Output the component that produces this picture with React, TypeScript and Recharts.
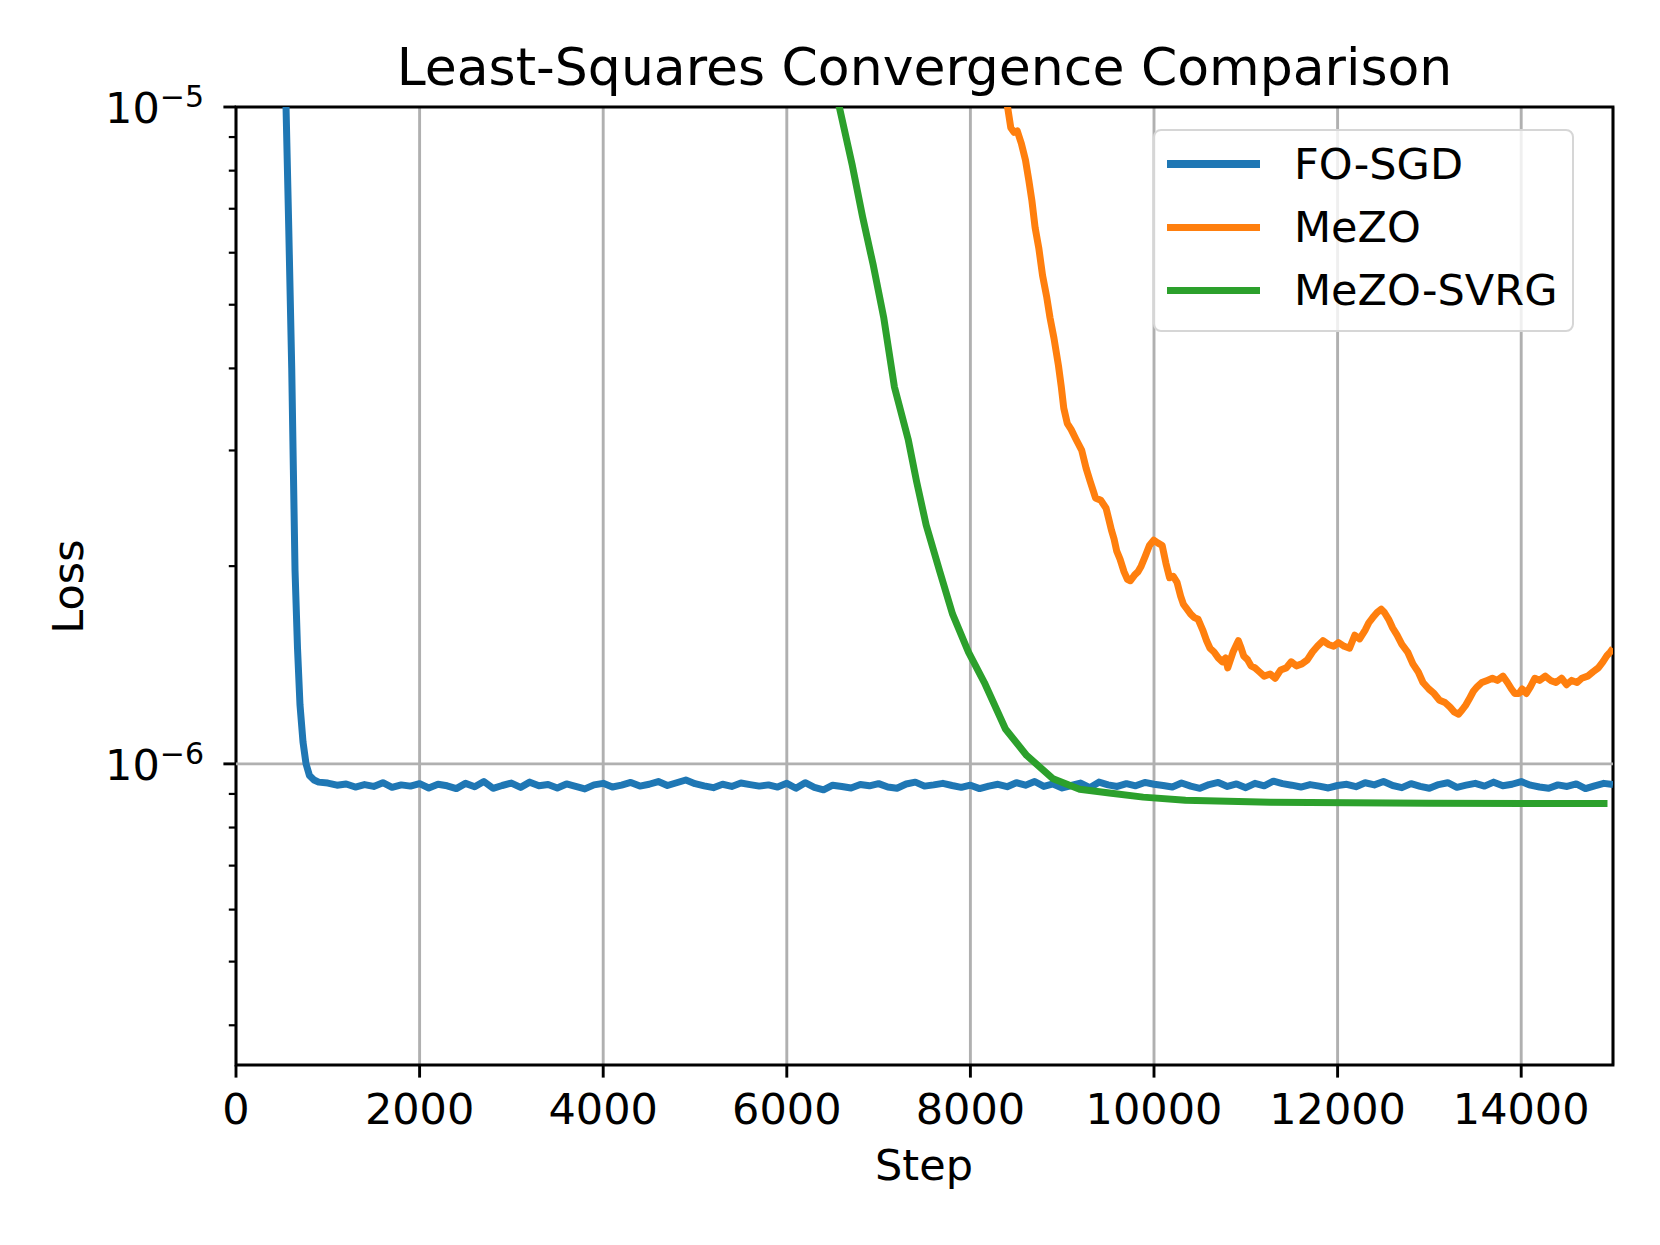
import { CartesianGrid, Legend, Line, LineChart, ReferenceArea, ReferenceLine, XAxis, YAxis } from "recharts";

const FONT = '"DejaVu Sans", "Liberation Sans", sans-serif';

// axis setup
const Y_MIN = 3.48e-7;
const Y_MAX = 1e-5;
const xTicks = [0, 2000, 4000, 6000, 8000, 10000, 12000, 14000];
const yMajorTicks = [1e-6, 1e-5];
const yMajorLabels = ["−6", "−5"];
const yMinorTicks = [4e-7, 5e-7, 6e-7, 7e-7, 8e-7, 9e-7, 2e-6, 3e-6, 4e-6, 5e-6, 6e-6, 7e-6, 8e-6, 9e-6];

// FO-SGD (loss in units of 1e-6)
const fosgdSteps = [
  0, 200, 400, 500, 545, 575, 607, 625, 643, 670, 697, 730, 763, 800, 850,
  900, 1000, 1100, 1200, 1300, 1400, 1500, 1600, 1700, 1800, 1900, 2000, 2100, 2200, 2300, 2400,
  2500, 2600, 2700, 2800, 2900, 3000, 3100, 3200, 3300, 3400, 3500, 3600, 3700, 3800, 3900, 4000,
  4100, 4200, 4300, 4400, 4500, 4600, 4700, 4800, 4900, 5000, 5100, 5200, 5300, 5400, 5500, 5600,
  5700, 5800, 5900, 6000, 6100, 6200, 6300, 6400, 6500, 6600, 6700, 6800, 6900, 7000, 7100, 7200,
  7300, 7400, 7500, 7600, 7700, 7800, 7900, 8000, 8100, 8200, 8300, 8400, 8500, 8600, 8700, 8800,
  8900, 9000, 9100, 9200, 9300, 9400, 9500, 9600, 9700, 9800, 9900, 10000, 10100, 10200, 10300, 10400,
  10500, 10600, 10700, 10800, 10900, 11000, 11100, 11200, 11300, 11400, 11500, 11600, 11700, 11800, 11900, 12000,
  12100, 12200, 12300, 12400, 12500, 12600, 12700, 12800, 12900, 13000, 13100, 13200, 13300, 13400, 13500, 13600,
  13700, 13800, 13900, 14000, 14100, 14200, 14300, 14400, 14500, 14600, 14700, 14800, 14900, 15000,
];
const fosgdLoss = [
  2000, 300, 70, 20, 10, 6.5, 4.0, 2.8, 1.97, 1.5, 1.23, 1.08, 1.0, 0.96, 0.945,
  0.938, 0.935, 0.928, 0.932, 0.922, 0.93, 0.924, 0.936, 0.921, 0.929, 0.925, 0.933, 0.919, 0.931, 0.926, 0.917,
  0.934, 0.923, 0.94, 0.918, 0.927, 0.935, 0.921, 0.938, 0.926, 0.93, 0.919, 0.932, 0.924, 0.916, 0.929, 0.934,
  0.922, 0.928, 0.937, 0.925, 0.931, 0.94, 0.927, 0.936, 0.945, 0.933, 0.926, 0.92, 0.931, 0.924, 0.935, 0.93,
  0.925, 0.929, 0.922, 0.934, 0.918, 0.936, 0.921, 0.913, 0.928, 0.924, 0.919, 0.93, 0.926, 0.933, 0.922, 0.918,
  0.932, 0.938, 0.925, 0.929, 0.934, 0.927, 0.921, 0.928, 0.917, 0.925, 0.931, 0.923, 0.936, 0.928, 0.94, 0.924,
  0.932, 0.919, 0.927, 0.935, 0.92, 0.938, 0.929, 0.924, 0.933, 0.926, 0.937, 0.931, 0.927, 0.922, 0.935, 0.925,
  0.918, 0.93, 0.937, 0.924, 0.932, 0.92, 0.934, 0.926, 0.941, 0.933, 0.928, 0.922, 0.93, 0.925, 0.919, 0.927,
  0.931, 0.923, 0.936, 0.929, 0.94, 0.927, 0.92, 0.933, 0.924, 0.918, 0.93, 0.936, 0.921, 0.928, 0.934, 0.925,
  0.938, 0.926, 0.931, 0.94, 0.928, 0.922, 0.918, 0.929, 0.924, 0.932, 0.917, 0.926, 0.934, 0.93,
];

// MeZO
const mezoSteps = [
  8000, 8200, 8405, 8440, 8475, 8510, 8555, 8600, 8636, 8670, 8705, 8745, 8786, 8830, 8867, 8910,
  8959, 8990, 9017, 9055, 9097, 9150, 9213, 9260, 9305, 9340, 9363, 9420, 9478, 9510, 9536, 9565,
  9593, 9630, 9674, 9710, 9743, 9790, 9824, 9860, 9904, 9950, 9997, 10040, 10089, 10130, 10170, 10210,
  10251, 10290, 10320, 10360, 10400, 10440, 10481, 10530, 10573, 10610, 10654, 10700, 10746, 10780, 10803, 10861,
  10919, 10950, 10977, 11020, 11057, 11100, 11150, 11200, 11265, 11320, 11380, 11440, 11495, 11550, 11611, 11670,
  11726, 11780, 11841, 11900, 11957, 12010, 12072, 12130, 12187, 12240, 12302, 12340, 12383, 12430, 12475, 12510,
  12556, 12600, 12648, 12700, 12763, 12820, 12879, 12930, 12994, 13050, 13110, 13170, 13225, 13270, 13317, 13360,
  13398, 13440, 13479, 13520, 13571, 13630, 13686, 13740, 13802, 13850, 13894, 13930, 13975, 14010, 14056, 14100,
  14148, 14200, 14263, 14320, 14379, 14440, 14494, 14550, 14609, 14660, 14724, 14780, 14840, 14890, 14932, 14970,
  15000,
];
const mezoLoss = [
  16.0, 12.6, 10.0, 9.3, 9.15, 9.2, 8.8, 8.3, 7.74, 7.2, 6.55, 6.1, 5.54, 5.15, 4.78, 4.45,
  4.04, 3.75, 3.48, 3.3, 3.23, 3.12, 3.0, 2.82, 2.69, 2.6, 2.54, 2.52, 2.45, 2.35, 2.27, 2.2,
  2.11, 2.05, 1.96, 1.91, 1.9, 1.94, 1.96, 2.0, 2.07, 2.15, 2.19, 2.17, 2.15, 2.02, 1.92, 1.93,
  1.89, 1.8, 1.75, 1.72, 1.69, 1.67, 1.66, 1.6, 1.54, 1.5, 1.48, 1.45, 1.43, 1.45, 1.4, 1.48,
  1.54, 1.5, 1.46, 1.44, 1.41, 1.4, 1.38, 1.36, 1.37, 1.35, 1.39, 1.4, 1.43, 1.41, 1.42, 1.44,
  1.48, 1.51, 1.54, 1.52, 1.51, 1.53, 1.51, 1.5, 1.57, 1.55, 1.6, 1.64, 1.67, 1.7, 1.72, 1.7,
  1.66, 1.61, 1.57, 1.52, 1.48, 1.42, 1.38, 1.33, 1.3, 1.28, 1.25, 1.24, 1.22, 1.2, 1.19, 1.21,
  1.23, 1.26, 1.29, 1.31, 1.33, 1.34, 1.35, 1.34, 1.36, 1.33, 1.3, 1.28, 1.28, 1.3, 1.28, 1.31,
  1.35, 1.34, 1.36, 1.34, 1.33, 1.35, 1.32, 1.34, 1.33, 1.35, 1.36, 1.38, 1.4, 1.43, 1.46, 1.48,
  1.5,
];

// MeZO-SVRG
const svrgSteps = [
  6300, 6572, 6711, 6826, 6941, 7057, 7172, 7322, 7414, 7518, 7668, 7806, 7979, 8152, 8382, 8613,
  8901, 9190, 9536, 9882, 10343, 11265, 12994, 14940,
];
const svrgLoss = [
  12.5, 10.0, 8.18, 6.8, 5.75, 4.77, 3.75, 3.12, 2.69, 2.31, 1.96, 1.69, 1.48, 1.33, 1.13, 1.03,
  0.949, 0.915, 0.902, 0.89, 0.88, 0.874, 0.871, 0.87,
];

const toRows = (steps: number[], loss: number[]) => steps.map((step, i) => ({ step, loss: loss[i] * 1e-6 }));

const series = [
  { name: "FO-SGD", color: "#1f77b4", data: toRows(fosgdSteps, fosgdLoss) },
  { name: "MeZO", color: "#ff7f0e", data: toRows(mezoSteps, mezoLoss) },
  { name: "MeZO-SVRG", color: "#2ca02c", data: toRows(svrgSteps, svrgLoss) },
];

const yTicks = [...yMinorTicks, ...yMajorTicks].sort((a, b) => a - b);

function YTick(props: any) {
  const { x, y, payload } = props;
  const idx = yMajorTicks.findIndex((t) => Math.abs(t - payload.value) / t < 1e-6);
  if (idx < 0) {
    return <line x1={x} x2={x - 7.2} y1={y} y2={y} stroke="#000" strokeWidth={2.2} />;
  }
  return (
    <g>
      <line x1={x} x2={x - 12.6} y1={y} y2={y} stroke="#000" strokeWidth={2.9} />
      <text x={x - 32} y={y + 16} textAnchor="end" fontFamily={FONT} fontSize={43} fill="#000">
        10
        <tspan dy={-16} fontSize={30}>
          {yMajorLabels[idx]}
        </tspan>
      </text>
    </g>
  );
}

function XTick(props: any) {
  const { x, y, payload } = props;
  return (
    <g>
      <line x1={x} x2={x} y1={y} y2={y + 12.6} stroke="#000" strokeWidth={2.9} />
      <text x={x} y={y + 59} textAnchor="middle" fontFamily={FONT} fontSize={43} fill="#000">
        {payload.value}
      </text>
    </g>
  );
}

function LegendBox(props: any) {
  const items = props.payload || [];
  return (
    <div
      style={{
        position: "relative",
        width: 421,
        height: 203,
        boxSizing: "border-box",
        border: "2.2px solid #d6d6d6",
        borderRadius: 8,
        background: "rgba(255,255,255,0.8)",
        fontFamily: FONT,
      }}
    >
      {items.map((it: any, i: number) => {
        const cy = 33 + 63.3 * i;
        return (
          <div key={it.value}>
            <div style={{ position: "absolute", left: 12, top: cy - 3.6, width: 93, height: 7.2, background: it.color }} />
            <div style={{ position: "absolute", left: 139, top: cy - 21.4, fontSize: 43, lineHeight: "43px", color: "#000", whiteSpace: "nowrap" }}>
              {it.value}
            </div>
          </div>
        );
      })}
    </div>
  );
}

export default function App() {
  return (
    <div style={{ position: "absolute", left: 0, top: 0, width: 1660, height: 1245, background: "#fff", fontFamily: FONT }}>
      <div style={{ position: "absolute", left: 236, top: 41, width: 1377, textAlign: "center", fontSize: 52, lineHeight: "52px", color: "#000" }}>
        Least-Squares Convergence Comparison
      </div>
      <LineChart width={1660} height={1245} margin={{ top: 107, right: 47, left: 0, bottom: 50 }}>
        <CartesianGrid horizontal={false} stroke="#b0b0b0" strokeWidth={2.9} />
        <XAxis
          dataKey="step"
          type="number"
          domain={[0, 15000]}
          ticks={xTicks}
          interval={0}
          allowDataOverflow
          axisLine={false}
          tickLine={false}
          tickSize={0}
          tickMargin={0}
          height={130}
          tick={<XTick />}
        />
        <YAxis
          type="number"
          scale="log"
          domain={[Y_MIN, Y_MAX]}
          ticks={yTicks}
          interval={0}
          allowDataOverflow
          axisLine={false}
          tickLine={false}
          tickSize={0}
          tickMargin={0}
          width={236}
          tick={<YTick />}
        />
        <ReferenceLine y={1e-6} stroke="#b0b0b0" strokeWidth={2.9} />
        {series.map((s) => (
          <Line
            key={s.name}
            data={s.data}
            dataKey="loss"
            name={s.name}
            type="linear"
            stroke={s.color}
            strokeWidth={7}
            strokeLinejoin="round"
            dot={false}
            activeDot={false}
            isAnimationActive={false}
          />
        ))}
        <ReferenceArea x1={0} x2={15000} y1={Y_MIN} y2={Y_MAX} fill="none" stroke="#000" strokeWidth={2.9} />
        <Legend
          layout="vertical"
          align="center"
          verticalAlign="middle"
          wrapperStyle={{ left: 1153, top: 129, width: 421, height: 203 }}
          content={<LegendBox />}
        />
      </LineChart>
      <div style={{ position: "absolute", left: 824, top: 1143.6, width: 200, textAlign: "center", fontSize: 43, lineHeight: "43px", color: "#000" }}>
        Step
      </div>
      <div
        style={{
          position: "absolute",
          left: 68 - 100,
          top: 586 - 21.5,
          width: 200,
          height: 43,
          textAlign: "center",
          fontSize: 43,
          lineHeight: "43px",
          color: "#000",
          transform: "rotate(-90deg)",
        }}
      >
        Loss
      </div>
    </div>
  );
}
